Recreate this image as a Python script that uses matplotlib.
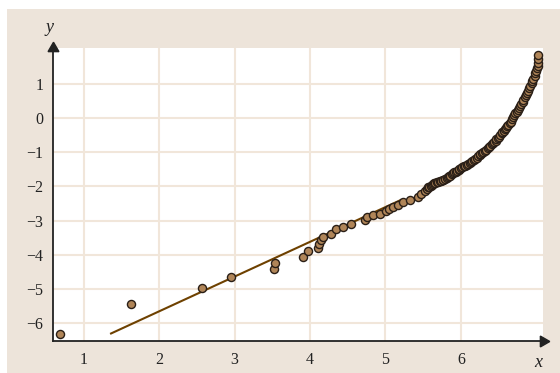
import numpy as np
import matplotlib.pyplot as plt
from matplotlib.patches import Rectangle

# sorted sample points: x = ln(value), y = ln(-ln(1 - F))
x_pts = [0.68, 1.62, 2.57, 2.95, 3.52, 3.54, 3.91, 3.97, 4.10, 4.12, 4.15, 4.17,
         4.28, 4.35, 4.44, 4.54, 4.73, 4.75, 4.84, 4.93, 5.01, 5.05, 5.10, 5.16,
         5.23, 5.33, 5.43, 5.47,
         5.52, 5.55, 5.57, 5.58, 5.60, 5.62, 5.63, 5.65, 5.66, 5.68, 5.70, 5.72,
         5.74, 5.76, 5.77, 5.79, 5.81, 5.83, 5.84, 5.86, 5.88, 5.90, 5.91, 5.93,
         5.95, 5.97, 5.98, 6.00,
         6.02, 6.04, 6.06, 6.08, 6.10, 6.12, 6.13, 6.15, 6.17, 6.19, 6.21, 6.23,
         6.25, 6.26, 6.28, 6.30, 6.32, 6.34, 6.36, 6.38, 6.39, 6.41, 6.43, 6.44,
         6.46, 6.47, 6.49, 6.50, 6.52,
         6.54, 6.55, 6.57, 6.58, 6.60, 6.61, 6.63, 6.65, 6.66, 6.68, 6.69, 6.71,
         6.72, 6.74, 6.76, 6.77, 6.79, 6.80, 6.82, 6.83,
         6.85, 6.86, 6.88, 6.89, 6.91, 6.92, 6.94, 6.95, 6.96, 6.98, 6.99, 7.00,
         7.01, 7.02, 7.03, 7.03, 7.03]
y_pts = [-6.31, -5.44, -4.98, -4.66, -4.40, -4.23, -4.07, -3.88, -3.81, -3.69, -3.58, -3.49,
         -3.40, -3.25, -3.20, -3.10, -2.98, -2.90, -2.84, -2.81, -2.71, -2.65, -2.59, -2.53,
         -2.45, -2.39, -2.30, -2.22,
         -2.12, -2.06, -2.03, -2.01, -1.98, -1.95, -1.93, -1.91, -1.90, -1.88, -1.87, -1.85,
         -1.84, -1.82, -1.81, -1.78, -1.75, -1.72, -1.70, -1.68, -1.65, -1.61, -1.59, -1.57,
         -1.54, -1.52, -1.50, -1.47,
         -1.44, -1.41, -1.39, -1.36, -1.33, -1.30, -1.28, -1.25, -1.22, -1.19, -1.16, -1.12,
         -1.08, -1.05, -1.02, -0.99, -0.95, -0.92, -0.88, -0.84, -0.81, -0.77, -0.73, -0.70,
         -0.66, -0.62, -0.58, -0.54, -0.49,
         -0.45, -0.41, -0.37, -0.33, -0.28, -0.24, -0.20, -0.15, -0.10, -0.03, 0.03, 0.09,
         0.14, 0.19, 0.24, 0.30, 0.36, 0.42, 0.48, 0.54,
         0.61, 0.67, 0.74, 0.80, 0.87, 0.93, 1.02, 1.08, 1.15, 1.23, 1.31, 1.38,
         1.46, 1.53, 1.62, 1.72, 1.85]

# fitted straight line (end points)
fit_x = [1.36, 5.20]
fit_y = [-6.30, -2.40]

x_ticks = [1, 2, 3, 4, 5, 6]
y_ticks = [1, 0, -1, -2, -3, -4, -5, -6]

beige = '#ede4da'
grid_c = '#f1e6da'

plt.rcParams['font.family'] = ['Liberation Serif', 'DejaVu Serif']

fig = plt.figure(figsize=(5.6, 3.73), dpi=100, facecolor='white')
fig.patches.append(Rectangle((7 / 560, 0), 1, 1 - 9 / 373, transform=fig.transFigure,
                             facecolor=beige, edgecolor='none', zorder=-10))

ax = fig.add_axes([53 / 560, 32 / 373, 490 / 560, 293 / 373])
ax.set_facecolor('white')
ax.set_xlim(0.59, 7.09)
ax.set_ylim(-6.52, 2.05)

ax.set_xticks(x_ticks)
ax.set_yticks(y_ticks)
ax.set_yticklabels(['\u2212%d' % -v if v < 0 else str(v) for v in y_ticks])
ax.tick_params(length=0, labelsize=11.5, colors='#222222')
ax.tick_params(axis='y', pad=7)
ax.tick_params(axis='x', pad=8)
ax.grid(True, color=grid_c, linewidth=1.5)
ax.set_axisbelow(True)

for side in ['top', 'right']:
    ax.spines[side].set_visible(False)
for side in ['left', 'bottom']:
    ax.spines[side].set_color('#222222')
    ax.spines[side].set_linewidth(1.3)

# arrow heads at the ends of the axes
ax.plot(1, 0, marker=(3, 0, -90), markersize=9, color='#222222',
        transform=ax.transAxes, clip_on=False)
ax.plot(0, 1, marker=(3, 0, 0), markersize=9, color='#222222',
        transform=ax.transAxes, clip_on=False)

ax.text(-0.008, 1.04, 'y', transform=ax.transAxes, fontsize=13, style='italic',
        ha='center', va='bottom', color='#222222')
ax.text(0.99, -0.072, 'x', transform=ax.transAxes, fontsize=13, style='italic',
        ha='center', va='center', color='#222222')

ax.plot(fit_x, fit_y, color='#6e4100', linewidth=1.5, zorder=2)
ax.scatter(x_pts, y_pts, s=34, facecolor='#b08558', edgecolor='#2a1f17',
           linewidth=1.0, zorder=3, clip_on=False)

fig.savefig('out.png', dpi=100, facecolor='white')
